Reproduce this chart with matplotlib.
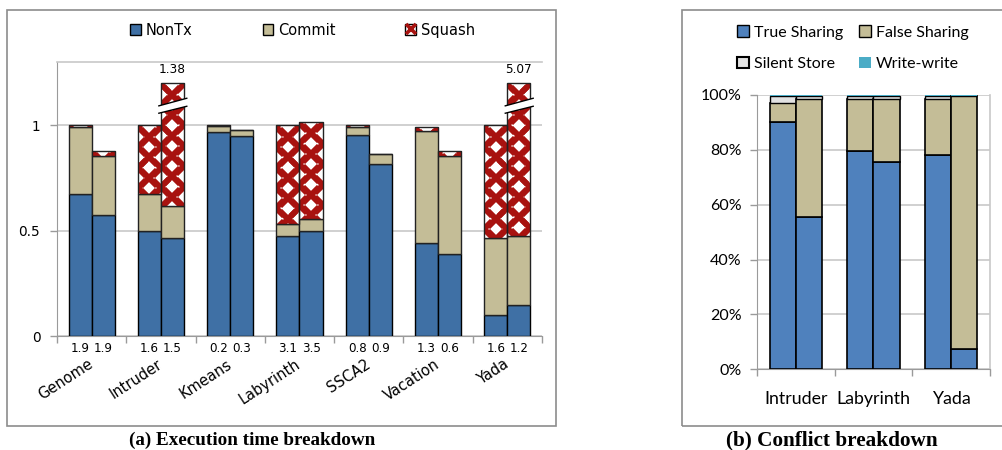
import matplotlib.pyplot as plt
import numpy as np
from matplotlib.patches import Patch, Rectangle, Polygon
from matplotlib.lines import Line2D
from matplotlib.legend_handler import HandlerTuple
import matplotlib.transforms as mtransforms

# === data: (a) execution time breakdown, two bars per benchmark ===
benchmarks = ["Genome", "Intruder", "Kmeans", "Labyrinth", "SSCA2", "Vacation", "Yada"]
nontx_1 = [0.673, 0.498, 0.968, 0.475, 0.953, 0.442, 0.100]
commit_1 = [0.317, 0.175, 0.027, 0.056, 0.039, 0.531, 0.366]
squash_1 = [0.010, 0.327, 0.005, 0.469, 0.008, 0.019, 0.534]
nontx_2 = [0.575, 0.465, 0.951, 0.496, 0.818, 0.389, 0.147]
commit_2 = [0.281, 0.151, 0.025, 0.059, 0.044, 0.467, 0.327]
squash_2 = [0.024, 0.764, 0.000, 0.461, 0.000, 0.021, 4.596]
below_1 = ["1.9", "1.6", "0.2", "3.1", "0.8", "1.3", "1.6"]
below_2 = ["1.9", "1.5", "0.3", "3.5", "0.9", "0.6", "1.2"]
y_cap = 1.2  # bars taller than this are drawn broken

# === data: (b) conflict breakdown ===
conflict_apps = ["Intruder", "Labyrinth", "Yada"]
true_1 = [0.900, 0.795, 0.781]
false_1 = [0.069, 0.190, 0.203]
silent_1 = [0.026, 0.012, 0.011]
ww_1 = [0.005, 0.003, 0.005]
true_2 = [0.557, 0.754, 0.074]
false_2 = [0.428, 0.231, 0.922]
silent_2 = [0.012, 0.012, 0.002]
ww_2 = [0.003, 0.003, 0.002]

c_nontx = "#3F70A5"
c_commit = "#C4BD97"
c_squash = "#A8120F"
c_true = "#4F81BD"
c_false = "#C4BD97"
c_silent = "#E2E2E2"
c_ww = "#4BACC6"
grid_c = "#C8C8C8"
axis_c = "#9A9A9A"

plt.rcParams["font.family"] = "DejaVu Sans"

fig = plt.figure(figsize=(10.02, 4.5), dpi=100)

# outer frames
fig.patches.append(Rectangle((0.007, 0.0533), 0.548, 0.9245, transform=fig.transFigure,
                             fill=False, edgecolor="#8C8C8C", lw=1.2))
fig.patches.append(Rectangle((0.6806, 0.0533), 0.34, 0.9245, transform=fig.transFigure,
                             fill=False, edgecolor="#8C8C8C", lw=1.2))

# ================= (a) =================
ax = fig.add_axes([0.0569, 0.2533, 0.484, 0.6089])
x = np.arange(len(benchmarks))
w = 0.333
cross_step = 0.097  # vertical period of the red crosses, in data units


def stack(ax, xpos, nontx, commit, squash):
    nontx = np.array(nontx)
    commit = np.array(commit)
    squash = np.array(squash)
    bottom_sq = nontx + commit
    top = np.minimum(bottom_sq + squash, y_cap)
    ax.bar(xpos, nontx, w, color=c_nontx, edgecolor="black", lw=1, zorder=3)
    ax.bar(xpos, commit, w, bottom=nontx, color=c_commit, edgecolor="#222222", lw=1, zorder=3)
    sq_bars = ax.bar(xpos, top - bottom_sq, w, bottom=bottom_sq, color="white", lw=0, zorder=3)
    # red cross pattern, clipped to each squash segment
    for rect, xi, b, t in zip(sq_bars, xpos, bottom_sq, top):
        if t - b <= 0:
            continue
        yc = np.arange(t - 0.055, b - cross_step, -cross_step)
        ye = yc + cross_step / 2
        ln1, = ax.plot(np.full_like(yc, xi), yc, ls="none", marker="x", ms=11.5, mew=4.2,
                       color=c_squash, zorder=3.5)
        ln2, = ax.plot(np.concatenate([np.full_like(ye, xi - w / 2), np.full_like(ye, xi + w / 2)]),
                       np.concatenate([ye, ye]), ls="none", marker="x", ms=11.5, mew=4.2,
                       color=c_squash, zorder=3.5)
        ln1.set_clip_path(rect)
        ln2.set_clip_path(rect)
    ax.bar(xpos, top - bottom_sq, w, bottom=bottom_sq, fill=False, edgecolor="#222222",
           lw=1, zorder=4)
    total = bottom_sq + squash
    for xi, t in zip(xpos, total):
        if t > y_cap:
            x0, x1 = xi - w / 2 - 0.03, xi + w / 2 + 0.04
            ax.add_patch(Polygon([(x0, 1.057), (x1, 1.090), (x1, 1.128), (x0, 1.092)],
                                 closed=True, facecolor="white", edgecolor="none", zorder=5))
            ax.plot([x0, x1], [1.057, 1.090], color="black", lw=1, zorder=6)
            ax.plot([x0, x1], [1.092, 1.128], color="black", lw=1, zorder=6)
            ax.text(xi, 1.265, f"{t:.2f}", ha="center", va="center", fontsize=8.7, zorder=6)


stack(ax, x - w / 2, nontx_1, commit_1, squash_1)
stack(ax, x + w / 2, nontx_2, commit_2, squash_2)

ax.set_xlim(-0.5, len(benchmarks) - 0.5)
ax.set_ylim(0, 1.3)
ax.set_yticks([0, 0.5, 1])
ax.set_yticklabels(["0", "0.5", "1"])
ax.yaxis.grid(True, color=grid_c, lw=1.2)
ax.set_axisbelow(True)
ax.tick_params(axis="y", length=5, width=1, color=axis_c, pad=7, labelsize=9.8)
ax.set_xticks(np.arange(len(benchmarks) + 1) - 0.5)
ax.set_xticklabels([])
ax.tick_params(axis="x", length=5, width=1, color=axis_c)
for s in ["left", "bottom"]:
    ax.spines[s].set_color(axis_c)
ax.spines["top"].set_color(grid_c)
ax.spines["top"].set_linewidth(1.2)
ax.spines["right"].set_visible(False)

trans = mtransforms.blended_transform_factory(ax.transData, ax.transAxes)
for i in range(len(benchmarks)):
    ax.text(x[i] - w / 2, -0.045, below_1[i], transform=trans, ha="center", va="center", fontsize=8.6)
    ax.text(x[i] + w / 2, -0.045, below_2[i], transform=trans, ha="center", va="center", fontsize=8.6)
    ax.text(x[i] - 0.06, -0.075, benchmarks[i], transform=trans, ha="right", va="top",
            rotation=33, rotation_mode="anchor", fontsize=10.5)

h_sq = (Patch(facecolor="white", edgecolor="black", lw=1),
        Line2D([], [], ls="none", marker="x", ms=6.5, mew=2.6, color=c_squash))
handles = [Patch(facecolor=c_nontx, edgecolor="black", lw=1),
           Patch(facecolor=c_commit, edgecolor="black", lw=1), h_sq]
fig.legend(handles, ["NonTx", "Commit", "Squash"], loc="center", bbox_to_anchor=(0.302, 0.933),
           ncol=3, frameon=False, fontsize=10.5, handlelength=0.75, handleheight=0.75,
           handletextpad=0.3, columnspacing=4.8,
           handler_map={tuple: HandlerTuple(ndivide=1)})

fig.text(0.252, 0.022, "(a) Execution time breakdown", ha="center", va="center",
         fontsize=13.8, fontweight="bold", family="Liberation Serif")

# ================= (b) =================
bx = fig.add_axes([0.7555, 0.1793, 0.2325, 0.6096])
xb = np.arange(len(conflict_apps))
wb = 0.335


def stack_b(ax, xpos, tr, fa, si, ww):
    tr, fa, si, ww = map(np.array, (tr, fa, si, ww))
    ax.bar(xpos, tr, wb, color=c_true, edgecolor="black", lw=1.2, zorder=3)
    ax.bar(xpos, fa, wb, bottom=tr, color=c_false, edgecolor="black", lw=1.2, zorder=3)
    ax.bar(xpos, si, wb, bottom=tr + fa, color=c_silent, edgecolor="black", lw=1.0, zorder=3)
    ax.bar(xpos, ww, wb, bottom=tr + fa + si, color=c_ww, edgecolor="none", lw=0, zorder=3)


stack_b(bx, xb - wb / 2, true_1, false_1, silent_1, ww_1)
stack_b(bx, xb + wb / 2, true_2, false_2, silent_2, ww_2)

bx.set_xlim(-0.5, len(conflict_apps) - 0.5)
bx.set_ylim(0, 1.0)
bx.set_yticks(np.arange(0, 1.01, 0.2))
bx.set_yticklabels([f"{int(round(v * 100))}%" for v in np.arange(0, 1.01, 0.2)],
                   family="Lato")
bx.yaxis.grid(True, color=grid_c, lw=1.2)
bx.set_axisbelow(True)
bx.tick_params(axis="y", length=5, width=1, color=axis_c, pad=6, labelsize=11.5)
bx.set_xticks(np.arange(len(conflict_apps) + 1) - 0.5)
bx.set_xticklabels([])
bx.tick_params(axis="x", length=5, width=1, color=axis_c)
bx.spines["left"].set_color(axis_c)
bx.spines["bottom"].set_color(axis_c)
bx.spines["top"].set_visible(False)
bx.spines["right"].set_color(grid_c)
bx.spines["right"].set_linewidth(1.2)

trans_b = mtransforms.blended_transform_factory(bx.transData, bx.transAxes)
for i, name in enumerate(conflict_apps):
    bx.text(xb[i], -0.11, name, transform=trans_b, ha="center", va="center",
            fontsize=12.8, family="Lato")

# column-wise fill: True / Silent in col 1, False / Write-write in col 2
handles_b = [Patch(facecolor=c_true, edgecolor="black", lw=1),
             Patch(facecolor=c_silent, edgecolor="black", lw=1.5),
             Patch(facecolor=c_false, edgecolor="black", lw=1),
             Patch(facecolor=c_ww, edgecolor="none")]
fig.legend(handles_b, ["True Sharing", "Silent Store", "False Sharing", "Write-write"],
           loc="center", bbox_to_anchor=(0.851, 0.893), ncol=2, frameon=False,
           prop={"family": "Lato", "size": 11.5}, handlelength=0.75, handleheight=0.75,
           handletextpad=0.3, columnspacing=1.0, labelspacing=1.05)

fig.text(0.830, 0.022, "(b) Conflict breakdown", ha="center", va="center",
         fontsize=15.3, fontweight="bold", family="Liberation Serif")

fig.savefig("out.png", dpi=100, facecolor="white")
